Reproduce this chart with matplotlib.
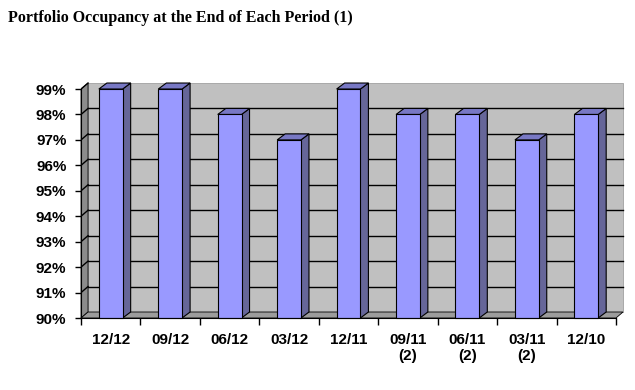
"""Ocupación de cartera al cierre de cada periodo (columnas estilo 3D de Excel)."""

import matplotlib

matplotlib.use("Agg", force=True)
import matplotlib.pyplot as plt
from matplotlib.patches import Polygon

PERIODS = ["12/12", "09/12", "06/12", "03/12", "12/11", "09/11\n(2)", "06/11\n(2)", "03/11\n(2)", "12/10"]
OCCUPANCY = [99, 99, 98, 97, 99, 98, 98, 97, 98]
Y_TICKS = [90, 91, 92, 93, 94, 95, 96, 97, 98, 99]

Y_MIN, Y_MAX = 90, 99
DX, DY = 0.118, 0.236  # desplazamiento de profundidad (pared del fondo)
BAR_W = 0.40
BAR_DX, BAR_DY = 0.135, 0.236

plt.rcParams["font.family"] = ["Liberation Sans", "DejaVu Sans"]

fig = plt.figure(figsize=(6.35, 3.9), dpi=100)
ax = fig.add_axes([0.1276, 0.1846, 0.8565, 0.6067])
n = len(PERIODS)
x0, x1 = -0.5, n - 0.5
ax.set_xlim(x0, 8.65)
ax.set_ylim(Y_MIN, 99.3)


def poly(points, face, edge="black", lw=0.8, z=1):
    ax.add_patch(Polygon(points, closed=True, facecolor=face, edgecolor=edge,
                         linewidth=lw, zorder=z, clip_on=False))


# pared del fondo, pared izquierda y suelo
poly([(x0 + DX, Y_MIN + DY), (x1 + DX, Y_MIN + DY), (x1 + DX, Y_MAX + DY), (x0 + DX, Y_MAX + DY)],
     "#c0c0c0", edge="#a0a0a0", lw=0.6)
poly([(x0, Y_MIN), (x0 + DX, Y_MIN + DY), (x0 + DX, Y_MAX + DY), (x0, Y_MAX)], "#8c8c8c", lw=0.6)
poly([(x0, Y_MIN), (x1, Y_MIN), (x1 + DX, Y_MIN + DY), (x0 + DX, Y_MIN + DY)], "#9c9c9c", lw=0.6)

for y in Y_TICKS[1:-1]:
    ax.plot([x0 + DX, x1 + DX], [y + DY, y + DY], color="black", lw=1.0, zorder=2)
for y in Y_TICKS[1:]:
    ax.plot([x0, x0 + DX], [y, y + DY], color="black", lw=1.0, zorder=2)

# columnas
for i, value in enumerate(OCCUPANCY):
    left, right = i - BAR_W / 2, i + BAR_W / 2
    poly([(right, Y_MIN), (right + BAR_DX, Y_MIN + BAR_DY), (right + BAR_DX, value + BAR_DY), (right, value)],
         "#666699", z=3)
    poly([(left, value), (right, value), (right + BAR_DX, value + BAR_DY), (left + BAR_DX, value + BAR_DY)],
         "#7878c4", z=3)
    poly([(left, Y_MIN), (right, Y_MIN), (right, value), (left, value)], "#9999ff", z=4)

for side in ("top", "right"):
    ax.spines[side].set_visible(False)
ax.spines["left"].set_bounds(Y_MIN, Y_MAX)
ax.spines["bottom"].set_bounds(x0, x1)
ax.spines["left"].set_zorder(5)
ax.spines["bottom"].set_zorder(5)

ax.set_yticks(Y_TICKS)
ax.set_yticklabels([f"{v}%" for v in Y_TICKS], fontsize=11, fontweight="bold")
ax.tick_params(axis="y", length=4.5, width=1, pad=6)

ax.set_xticks([i - 0.5 for i in range(n + 1)])
ax.set_xticklabels([])
ax.set_xticks(range(n), minor=True)
ax.set_xticklabels(PERIODS, minor=True, fontsize=11, fontweight="bold", linespacing=1.2)
ax.tick_params(axis="x", which="major", length=5, width=1)
ax.tick_params(axis="x", which="minor", length=0, pad=11)
ax.patch.set_visible(False)

fig.text(0.013, 0.944, "Portfolio Occupancy at the End of Each Period (1)",
         family=["Liberation Serif", "DejaVu Serif"], fontweight="bold", fontsize=11.5,
         ha="left", va="baseline")

fig.savefig("out.png", dpi=100)
